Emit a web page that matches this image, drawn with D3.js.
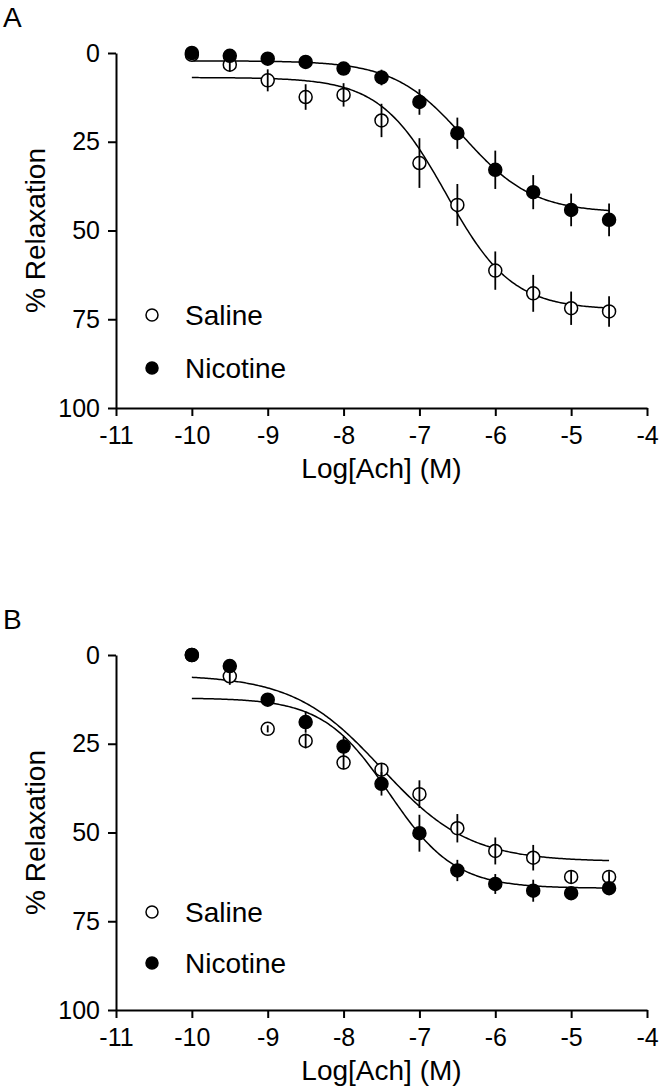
<!DOCTYPE html>
<html><head><meta charset="utf-8">
<script src="https://cdn.jsdelivr.net/npm/d3@7"></script>
<style>
body{margin:0;background:#fff}
svg{display:block}
text{font-family:Arial,"Liberation Sans",sans-serif;fill:#000}
</style>
</head><body>
<svg id="c" width="662" height="1091"></svg>
<script>
// ---- data ----
const doses = [-10, -9.5, -9, -8.5, -8, -7.5, -7, -6.5, -6, -5.5, -5, -4.5];
const xTicks = [-11, -10, -9, -8, -7, -6, -5, -4];
const yTicks = [0, 25, 50, 75, 100];
const seriesNames = ["Saline", "Nicotine"];

const salineA = [0.5, 3.3, 7.7, 12.4, 11.8, 19.0, 31.0, 42.8, 61.3, 67.7, 71.9, 72.8];
const salineAErr = [1, 1.9, 3.1, 3.6, 3.3, 4.7, 7.0, 5.9, 5.4, 5.2, 4.7, 4.3];
const nicotineA = [0, 0.8, 1.6, 2.5, 4.4, 6.9, 13.8, 22.6, 32.9, 39.2, 44.2, 47.0];
const nicotineAErr = [0.5, 0.8, 0.8, 1, 1.2, 2.2, 3.6, 4.4, 5.4, 4.8, 4.6, 4.6];
// fitted curve parameters: [bottom, top, logEC50, hill]
const salineAFit = [6.9, 72.3, -6.65, 1.0];
const nicotineAFit = [2.2, 45.0, -6.42, 0.95];

const salineB = [0, 6.0, 20.8, 24.2, 30.3, 32.3, 39.2, 48.8, 55.2, 57.1, 62.5, 62.5];
const salineBErr = [0.5, 2.4, 1, 2.1, 1.9, 1.8, 3.9, 4.0, 3.8, 3.6, 1.9, 1.6];
const nicotineB = [0, 3.1, 12.6, 18.9, 25.8, 36.3, 50.2, 60.7, 64.5, 66.4, 67.1, 65.7];
const nicotineBErr = [0.5, 1.2, 1, 3.0, 2.8, 3.3, 5.2, 3.0, 2.8, 3.1, 1.6, 1.5];
const salineBFit = [5.6, 58.2, -7.5, 0.75];
const nicotineBFit = [12.1, 65.7, -7.4, 1.0];

const curveRange = [-10, -4.5];

// ---- drawing ----
const svg = d3.select("#c");
const x = d3.scaleLinear().domain([-11, -4]).range([116, 647]);

function drawPanel(letter, top, sal, salErr, nic, nicErr, salFit, nicFit, legY) {
  const y = d3.scaleLinear().domain([0, 100]).range([top, top + 355]);
  const g = svg.append("g");

  g.append("text").attr("x", 3).attr("y", top - 26).attr("font-size", 28).text(letter);

  const ya = g.append("g").attr("transform", `translate(${x.range()[0]},0)`)
    .call(d3.axisLeft(y).tickValues(yTicks).tickSize(8).tickSizeOuter(0).tickPadding(8));
  const xa = g.append("g").attr("transform", `translate(0,${y.range()[1]})`)
    .call(d3.axisBottom(x).tickValues(xTicks).tickSize(8).tickSizeOuter(0).tickPadding(10).tickFormat(d3.format("d")));
  [ya, xa].forEach(a => {
    a.selectAll("path,line").attr("stroke", "#000").attr("stroke-width", 2);
    a.selectAll("text").attr("font-size", 25).attr("font-family", "Arial, 'Liberation Sans', sans-serif").attr("fill", "#000");
  });
  xa.selectAll("text").text(d => d < 0 ? "-" + Math.abs(d) : d);

  g.append("text").attr("transform", `translate(45,${(y.range()[0] + y.range()[1]) / 2}) rotate(-90)`)
    .attr("text-anchor", "middle").attr("font-size", 28).text("% Relaxation");
  g.append("text").attr("x", (x.range()[0] + x.range()[1]) / 2).attr("y", y.range()[1] + 70)
    .attr("text-anchor", "middle").attr("font-size", 28).text("Log[Ach] (M)");

  const line = d3.line().x(d => x(d[0])).y(d => y(d[1]));
  const fitFn = p => v => p[0] + (p[1] - p[0]) / (1 + Math.pow(10, p[3] * (p[2] - v)));
  const grid = d3.range(curveRange[0], curveRange[1] + 0.001, 0.02);
  [salFit, nicFit].forEach(p => {
    const f = fitFn(p);
    g.append("path").datum(grid.map(v => [v, f(v)])).attr("d", line)
      .attr("fill", "none").attr("stroke", "#000").attr("stroke-width", 1.5);
  });

  function points(vals, errs, filled) {
    const pts = doses.map((d, i) => ({ d, v: vals[i], e: errs[i] }));
    g.append("g").selectAll("circle").data(pts).join("circle")
      .attr("cx", p => x(p.d)).attr("cy", p => y(p.v)).attr("r", 6.5)
      .attr("fill", filled ? "#000" : "#fff").attr("stroke", "#000").attr("stroke-width", 1.5);
    g.append("g").selectAll("line").data(pts).join("line")
      .attr("x1", p => x(p.d)).attr("x2", p => x(p.d))
      .attr("y1", p => y(p.v - p.e)).attr("y2", p => y(p.v + p.e))
      .attr("stroke", "#000").attr("stroke-width", 1.8);
  }
  points(sal, salErr, false);
  points(nic, nicErr, true);

  seriesNames.forEach((n, i) => {
    const cy = legY[i];
    g.append("circle").attr("cx", 152).attr("cy", cy).attr("r", 6)
      .attr("fill", i === 0 ? "#fff" : "#000").attr("stroke", "#000").attr("stroke-width", 1.5);
    g.append("text").attr("x", 185).attr("y", cy + 10).attr("font-size", 28).text(n);
  });
}

drawPanel("A", 53, salineA, salineAErr, nicotineA, nicotineAErr, salineAFit, nicotineAFit, [315, 368]);
drawPanel("B", 655, salineB, salineBErr, nicotineB, nicotineBErr, salineBFit, nicotineBFit, [912, 963]);
</script>
</body></html>
